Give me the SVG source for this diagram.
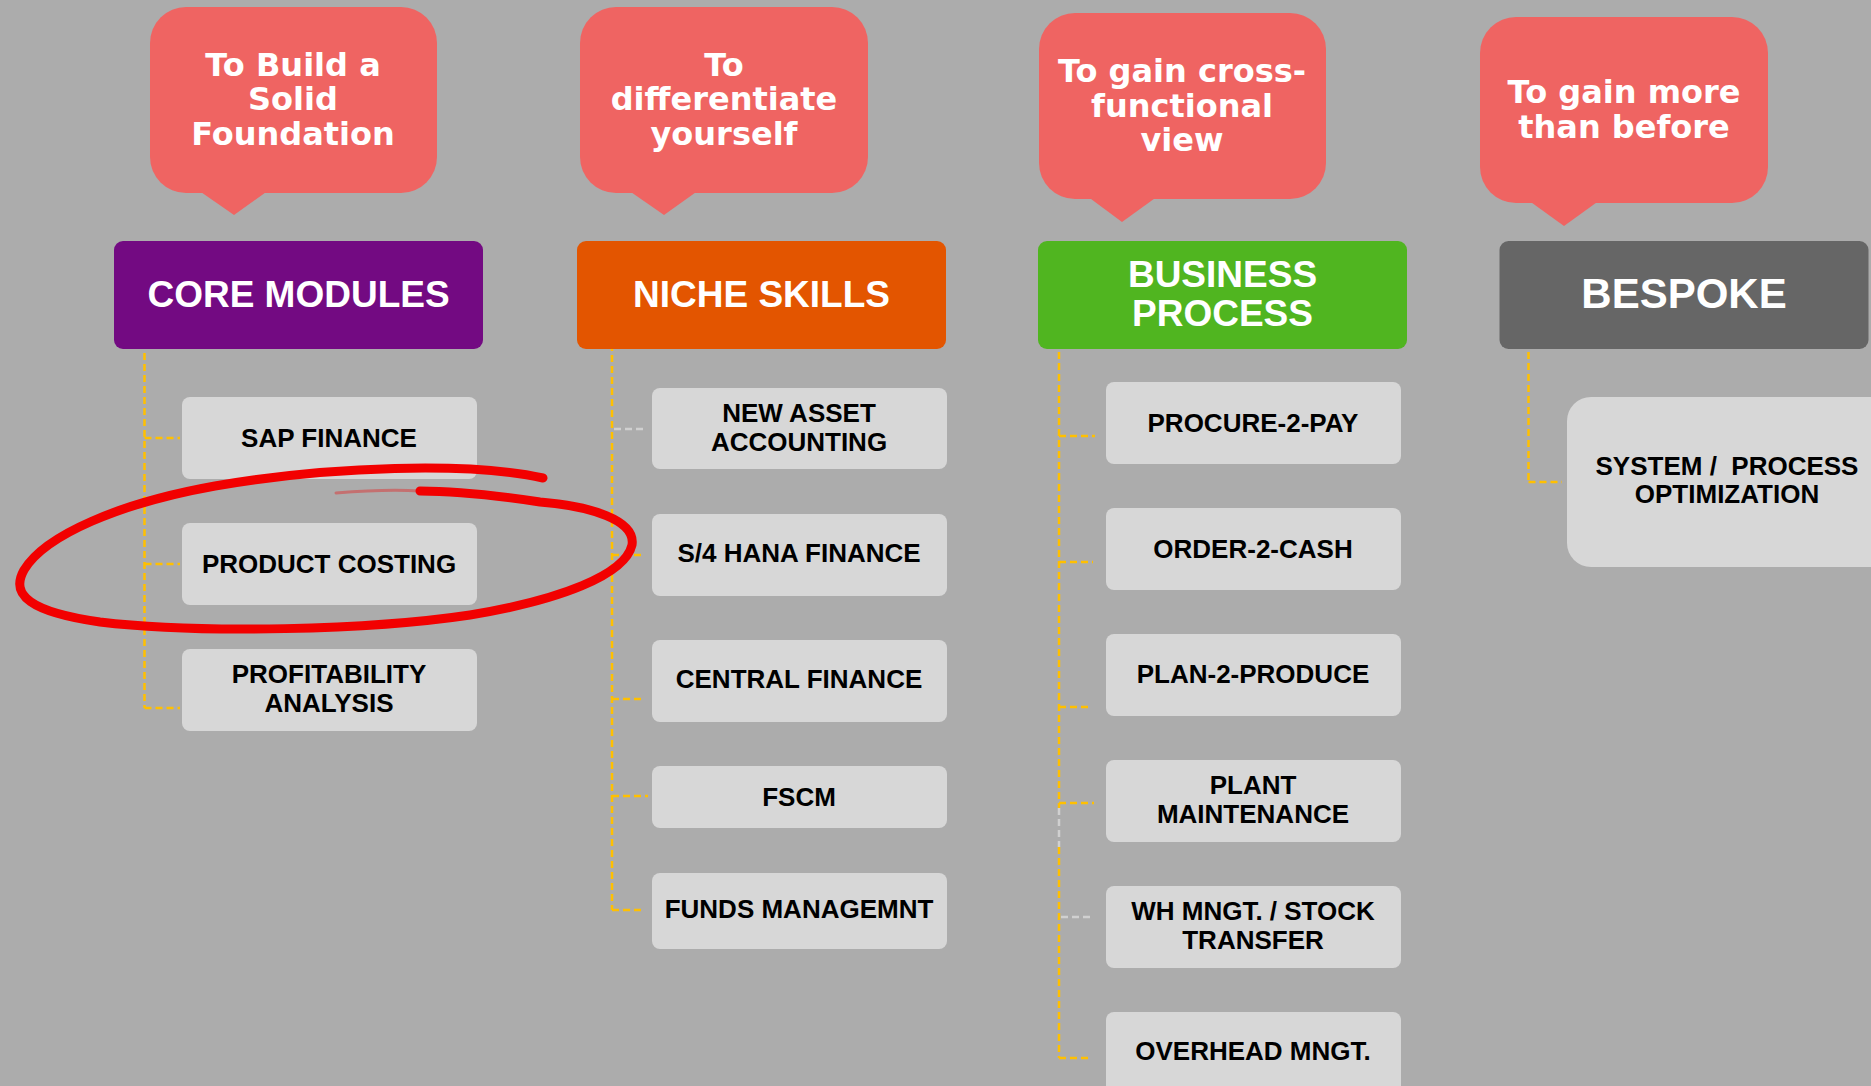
<svg xmlns="http://www.w3.org/2000/svg" width="1871" height="1086" viewBox="0 0 1871 1086">
<defs>
<style>
.bub{fill:#ef6462}
.bt{font-family:"DejaVu Sans",Verdana,sans-serif;font-weight:bold;font-size:32px;fill:#ffffff;text-anchor:middle}
.hd{font-family:"Liberation Sans",Arial,sans-serif;font-weight:bold;font-size:37px;fill:#ffffff;text-anchor:middle}
.bx{fill:#d7d7d7}
.tx{font-family:"Liberation Sans",Arial,sans-serif;font-weight:bold;font-size:26px;fill:#000000;text-anchor:middle;white-space:pre}
.cn{stroke:#ffc000;stroke-width:2.5;stroke-dasharray:7 4;fill:none}
.cg{stroke:#d0d0d0;stroke-width:2.5;stroke-dasharray:7 4;fill:none}
</style>
</defs>
<rect x="0" y="0" width="1871" height="1086" fill="#acacac"/>

<!-- speech bubbles -->
<g id="bubble1">
<rect class="bub" x="150" y="7" width="287" height="186" rx="36" ry="36"/>
<polygon class="bub" points="198,190 269,190 234,215"/>
<text class="bt" x="293" y="76">To Build a</text>
<text class="bt" x="293" y="110">Solid</text>
<text class="bt" x="293" y="145">Foundation</text>
</g>
<g id="bubble2">
<rect class="bub" x="580" y="7" width="288" height="186" rx="36" ry="36"/>
<polygon class="bub" points="628,190 699,190 664,215"/>
<text class="bt" x="724" y="76">To</text>
<text class="bt" x="724" y="110">differentiate</text>
<text class="bt" x="724" y="145">yourself</text>
</g>
<g id="bubble3">
<rect class="bub" x="1039" y="13" width="287" height="186" rx="36" ry="36"/>
<polygon class="bub" points="1087,196 1158,196 1122,222"/>
<text class="bt" x="1182" y="82">To gain cross-</text>
<text class="bt" x="1182" y="117">functional</text>
<text class="bt" x="1182" y="151">view</text>
</g>
<g id="bubble4">
<rect class="bub" x="1480" y="17" width="288" height="186" rx="36" ry="36"/>
<polygon class="bub" points="1528,200 1600,200 1564,226"/>
<text class="bt" x="1624" y="103">To gain more</text>
<text class="bt" x="1624" y="138">than before</text>
</g>

<!-- connectors -->
<g id="connectors">
<line class="cn" x1="144.5" y1="353" x2="144.5" y2="708"/>
<line class="cn" x1="144.5" y1="438" x2="180" y2="438"/>
<line class="cn" x1="144.5" y1="564" x2="180" y2="564"/>
<line class="cn" x1="144.5" y1="708" x2="180" y2="708"/>

<line class="cn" x1="612" y1="344" x2="612" y2="910"/>
<line class="cg" x1="614" y1="429" x2="646" y2="429"/>
<line class="cn" x1="612" y1="555" x2="645" y2="555"/>
<line class="cn" x1="612" y1="699" x2="645" y2="699"/>
<line class="cn" x1="612" y1="796" x2="648" y2="796"/>
<line class="cn" x1="612" y1="910" x2="645" y2="910"/>

<line class="cn" x1="1059" y1="352" x2="1059" y2="808"/>
<line class="cg" x1="1059" y1="808" x2="1059" y2="847"/>
<line class="cn" x1="1059" y1="847" x2="1059" y2="1058"/>
<line class="cn" x1="1059" y1="436" x2="1095" y2="436"/>
<line class="cn" x1="1059" y1="562" x2="1093" y2="562"/>
<line class="cn" x1="1059" y1="707" x2="1092" y2="707"/>
<line class="cn" x1="1059" y1="803" x2="1094" y2="803"/>
<line class="cg" x1="1061" y1="917" x2="1094" y2="917"/>
<line class="cn" x1="1059" y1="1058" x2="1092" y2="1058"/>

<line class="cn" x1="1528.5" y1="352" x2="1528.5" y2="482"/>
<line class="cn" x1="1528.5" y1="482" x2="1562" y2="482"/>
</g>

<!-- headers -->
<g id="core-modules">
<rect x="114" y="241" width="369" height="108" rx="9" fill="#730a82"/>
<text class="hd" x="298.5" y="307">CORE MODULES</text>
</g>
<g id="niche-skills">
<rect x="577" y="241" width="369" height="108" rx="9" fill="#e35500"/>
<text class="hd" x="761.5" y="307">NICHE SKILLS</text>
</g>
<g id="business-process">
<rect x="1038" y="241" width="369" height="108" rx="9" fill="#50b520"/>
<text class="hd" x="1222.5" y="287">BUSINESS</text>
<text class="hd" x="1222.5" y="326">PROCESS</text>
</g>
<g id="bespoke">
<rect x="1499.5" y="241" width="369" height="108" rx="9" fill="#666666"/>
<text class="hd" x="1684" y="308" style="font-size:42px">BESPOKE</text>
</g>

<!-- core module items -->
<g id="sap-finance">
<rect class="bx" x="182" y="397" width="295" height="82" rx="8"/>
<text class="tx" x="329" y="447">SAP FINANCE</text>
</g>
<g id="product-costing">
<rect class="bx" x="182" y="523" width="295" height="82" rx="8"/>
<text class="tx" x="329" y="573">PRODUCT COSTING</text>
</g>
<g id="profitability-analysis">
<rect class="bx" x="182" y="649" width="295" height="82" rx="8"/>
<text class="tx" x="329" y="683">PROFITABILITY</text>
<text class="tx" x="329" y="712">ANALYSIS</text>
</g>

<!-- niche skills items -->
<g id="new-asset-accounting">
<rect class="bx" x="652" y="388" width="295" height="81" rx="8"/>
<text class="tx" x="799" y="422">NEW ASSET</text>
<text class="tx" x="799" y="451">ACCOUNTING</text>
</g>
<g id="s4-hana-finance">
<rect class="bx" x="652" y="514" width="295" height="82" rx="8"/>
<text class="tx" x="799" y="562">S/4 HANA FINANCE</text>
</g>
<g id="central-finance">
<rect class="bx" x="652" y="640" width="295" height="82" rx="8"/>
<text class="tx" x="799" y="688">CENTRAL FINANCE</text>
</g>
<g id="fscm">
<rect class="bx" x="652" y="766" width="295" height="62" rx="8"/>
<text class="tx" x="799" y="806">FSCM</text>
</g>
<g id="funds-management">
<rect class="bx" x="652" y="873" width="295" height="76" rx="8"/>
<text class="tx" x="799" y="918">FUNDS MANAGEMNT</text>
</g>

<!-- business process items -->
<g id="procure-2-pay">
<rect class="bx" x="1106" y="382" width="295" height="82" rx="8"/>
<text class="tx" x="1253" y="432">PROCURE-2-PAY</text>
</g>
<g id="order-2-cash">
<rect class="bx" x="1106" y="508" width="295" height="82" rx="8"/>
<text class="tx" x="1253" y="558">ORDER-2-CASH</text>
</g>
<g id="plan-2-produce">
<rect class="bx" x="1106" y="634" width="295" height="82" rx="8"/>
<text class="tx" x="1253" y="683">PLAN-2-PRODUCE</text>
</g>
<g id="plant-maintenance">
<rect class="bx" x="1106" y="760" width="295" height="82" rx="8"/>
<text class="tx" x="1253" y="794">PLANT</text>
<text class="tx" x="1253" y="823">MAINTENANCE</text>
</g>
<g id="wh-mngt">
<rect class="bx" x="1106" y="886" width="295" height="82" rx="8"/>
<text class="tx" x="1253" y="920">WH MNGT. / STOCK</text>
<text class="tx" x="1253" y="949">TRANSFER</text>
</g>
<g id="overhead-mngt">
<rect class="bx" x="1106" y="1012" width="295" height="90" rx="8"/>
<text class="tx" x="1253" y="1060">OVERHEAD MNGT.</text>
</g>

<!-- bespoke item -->
<g id="system-process-optimization">
<rect class="bx" x="1567" y="397" width="330" height="170" rx="24"/>
<text class="tx" x="1727" y="475">SYSTEM /  PROCESS</text>
<text class="tx" x="1727" y="503">OPTIMIZATION</text>
</g>

<!-- red hand-drawn circle -->
<g id="highlight" fill="none" stroke-linecap="round" stroke-linejoin="round">
<path d="M 543,478 C 470,462 330,466 215,486 C 120,503 45,535 24,570 C 10,595 30,612 100,622 C 200,634 370,630 470,615 C 560,600 625,575 632,545 C 636,520 590,506 540,502 C 500,496 460,491 420,491" stroke="#f20000" stroke-width="9"/>
<path d="M 420,491 C 390,489 360,491 336,493" stroke="#f20000" stroke-width="3" opacity="0.35"/>
</g>
</svg>
